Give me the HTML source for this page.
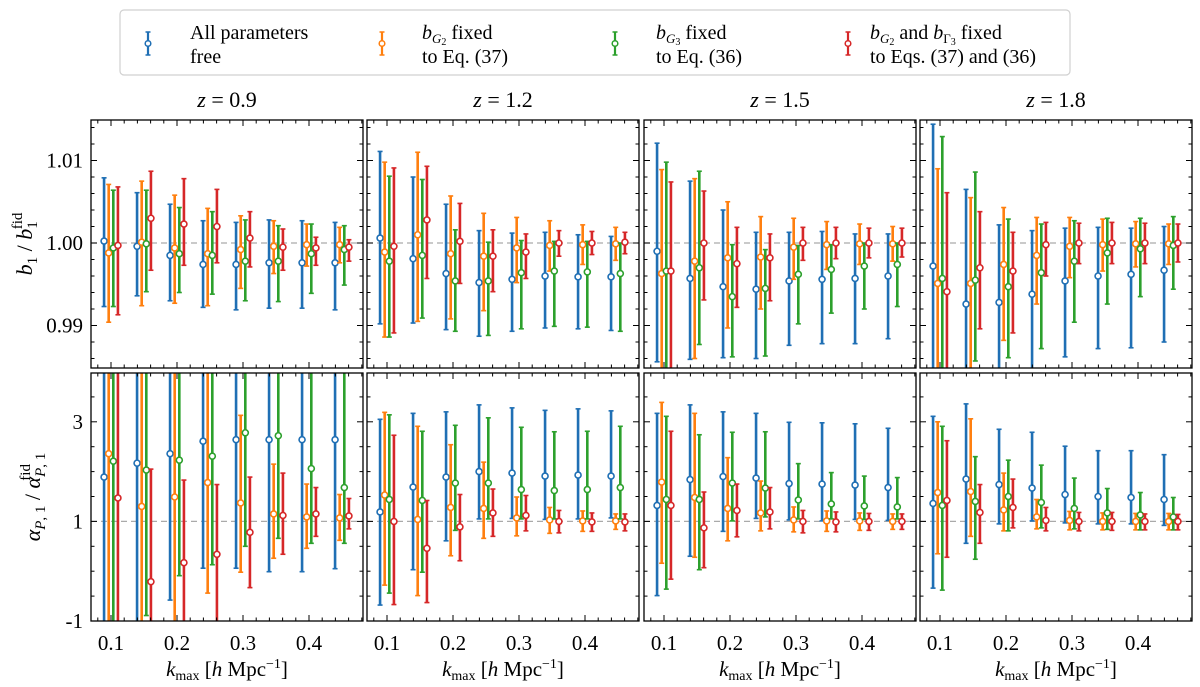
<!DOCTYPE html>
<html><head><meta charset="utf-8">
<style>
html,body{margin:0;padding:0;background:#fff;width:1200px;height:687px;overflow:hidden;}
svg{display:block;}
svg text{font-family:"Liberation Serif","DejaVu Serif",serif;}
</style></head>
<body>
<svg id="fig" width="1200" height="687" viewBox="0 0 1200 687" font-family="Liberation Serif, DejaVu Serif, serif" xmlns="http://www.w3.org/2000/svg">
<g id="legend">
<rect x="120" y="10" width="950" height="65" rx="4" fill="#fff" stroke="#d0d0d0" stroke-width="1.2"/>
</g>
</svg>
<script>
// ---- data ----
const kmax = [0.1,0.15,0.2,0.25,0.3,0.35,0.4,0.45];
const redshifts = ["0.9","1.2","1.5","1.8"];
const seriesNames = ["all-free","bG2-fixed","bG3-fixed","bG2-bG3-fixed"];
// b1/b1fid deviations in units of 1e-3 ; per redshift: [blue, orange, green, red]
const b1Mid = [
 [[0.24,-0.4,-1.5,-2.6,-2.6,-2.4,-2.4,-2.4],[-1.2,0.1,-0.6,-1.3,-0.8,-0.4,-0.2,-0.2],[-0.6,-0.1,-1.3,-1.5,-2.2,-2.2,-1.3,-0.8],[-0.3,3.0,2.3,2.0,0.6,-0.5,-0.6,-0.5]],
 [[0.6,-1.9,-3.7,-4.8,-4.4,-4.0,-4.1,-4.1],[-1.1,1.0,-1.3,-1.6,-0.6,-0.3,-0.2,-0.1],[-2.2,-1.5,-4.6,-4.6,-3.6,-3.4,-3.5,-3.7],[-0.4,2.8,0.2,-1.6,-1.1,0.0,0.0,0.1]],
 [[-1.0,-4.3,-5.3,-5.6,-4.6,-4.4,-4.3,-4.0],[-3.7,-2.2,-1.8,-1.7,-0.5,-0.2,-0.1,-0.1],[-3.4,-3.0,-6.5,-5.5,-3.8,-3.2,-2.8,-2.6],[-3.4,0.0,-2.5,-1.8,0.0,0.0,0.0,0.0]],
 [[-2.8,-7.4,-7.2,-6.2,-4.6,-4.0,-3.8,-3.3],[-4.9,-4.9,-2.6,-1.5,-0.4,-0.2,-0.1,-0.1],[-4.3,-4.5,-5.3,-3.6,-2.2,-1.2,-0.7,-0.3],[-5.9,-3.0,-3.4,-0.2,0.0,0.0,0.0,0.0]]
];
const b1Up = [
 [[7.9,6.1,4.7,2.7,2.5,2.8,2.7,2.5],[7.1,7.5,5.8,4.2,3.3,2.7,2.3,1.9],[6.4,6.4,4.3,3.8,2.8,2.1,2.3,2.1],[6.8,8.7,7.8,6.5,3.8,1.7,0.7,0.4]],
 [[11.1,8.0,4.7,1.5,1.2,1.3,1.0,0.8],[9.8,11.0,5.7,3.6,3.1,2.7,2.2,1.9],[8.1,7.7,1.6,0.1,0.3,0.2,0.2,0.0],[9.1,9.3,4.8,1.6,1.1,1.5,1.4,1.3]],
 [[12.1,7.5,4.0,1.3,1.3,1.4,1.1,1.1],[8.9,7.8,5.0,3.2,3.0,2.6,2.3,2.0],[9.8,8.7,-0.2,-0.8,-0.3,-0.2,0.0,0.0],[7.4,6.3,1.9,1.1,1.9,1.9,1.8,1.8]],
 [[14.4,6.5,2.2,1.5,1.8,1.9,1.8,2.0],[9.0,5.5,4.3,3.1,3.1,2.9,2.6,2.3],[12.9,8.6,2.9,2.3,2.7,3.0,3.0,3.2],[6.1,3.8,1.3,2.5,2.4,2.5,2.4,2.3]]
];
const b1Lo = [
 [[-7.7,-6.4,-7.0,-7.8,-8.1,-7.9,-7.9,-8.1],[-9.6,-7.6,-7.3,-7.6,-5.5,-3.7,-2.8,-2.4],[-7.7,-5.9,-6.0,-6.2,-7.0,-7.1,-6.1,-5.1],[-8.7,-3.3,-2.7,-2.4,-2.9,-3.3,-2.7,-2.2]],
 [[-9.8,-9.7,-10.5,-11.3,-10.7,-10.3,-10.4,-10.6],[-11.4,-9.5,-9.2,-8.2,-4.8,-3.4,-2.6,-2.1],[-11.4,-9.1,-10.7,-11.2,-10.4,-10.1,-10.2,-10.7],[-10.9,-4.3,-4.9,-5.9,-4.3,-1.6,-1.4,-1.3]],
 [[-14.4,-14.1,-13.9,-14.0,-12.4,-12.2,-12.2,-11.6],[-30,-14.0,-10.3,-8.0,-4.4,-3.2,-2.6,-2.2],[-30,-12.3,-13.8,-13.7,-9.8,-8.5,-8.0,-7.7],[-30,-6.9,-7.8,-7.0,-2.1,-1.9,-1.8,-1.7]],
 [[-30,-30,-30,-30,-13.8,-12.8,-12.7,-12.0],[-30,-30,-11.8,-7.4,-4.2,-3.4,-2.9,-2.6],[-30,-14.3,-13.9,-12.8,-9.6,-7.4,-6.5,-5.6],[-30,-10.4,-10.9,-4.0,-2.5,-2.5,-2.5,-2.3]]
];
// alpha_P1/alpha_P1^fid
const apMid = [
 [[1.89,2.17,2.36,2.61,2.64,2.64,2.64,2.64],[2.36,1.30,1.49,1.78,1.37,1.15,1.09,1.07],[2.21,2.03,2.23,2.31,2.78,2.72,2.06,1.68],[1.47,-0.21,0.17,0.34,0.78,1.12,1.15,1.11]],
 [[1.19,1.69,1.89,2.0,1.97,1.91,1.93,1.91],[1.53,1.04,1.28,1.26,1.07,1.03,1.01,1.01],[1.44,1.42,1.77,1.77,1.64,1.62,1.64,1.68],[1.0,0.46,0.89,1.17,1.12,1.0,0.99,0.99]],
 [[1.32,1.84,1.90,1.87,1.76,1.75,1.73,1.68],[1.79,1.48,1.26,1.17,1.03,1.01,1.01,1.0],[1.44,1.44,1.77,1.67,1.43,1.35,1.31,1.29],[1.32,0.87,1.22,1.19,1.0,0.99,1.0,1.0]],
 [[1.36,1.85,1.74,1.67,1.54,1.50,1.48,1.44],[1.58,1.60,1.23,1.09,1.02,1.0,1.0,1.0],[1.32,1.40,1.50,1.38,1.26,1.17,1.13,1.09],[1.42,1.18,1.28,1.02,1.0,1.0,1.0,1.0]]
];
const apUp = [
 [[10,10,10,10,10,10,10,10],[10,10,10,10,3.13,2.15,1.75,1.54],[10,10,10,10,10,10,10,10],[10,2.05,1.83,1.74,1.89,1.97,1.68,1.46]],
 [[3.05,3.17,3.20,3.34,3.28,3.23,3.26,3.22],[3.19,2.91,2.54,2.19,1.49,1.28,1.21,1.15],[3.14,2.81,2.93,3.08,2.89,2.80,2.81,2.91],[2.73,1.42,1.54,1.65,1.52,1.22,1.17,1.15]],
 [[3.17,3.34,3.20,3.17,2.99,2.98,2.96,2.87],[3.39,3.17,2.28,1.81,1.29,1.21,1.17,1.15],[3.11,2.74,2.79,2.80,2.16,1.98,1.91,1.88],[2.81,1.59,1.75,1.68,1.22,1.19,1.16,1.15]],
 [[3.11,3.36,2.85,2.79,2.51,2.42,2.42,2.34],[3.0,3.06,1.97,1.44,1.2,1.17,1.16,1.16],[2.91,2.30,2.23,2.13,1.87,1.66,1.58,1.48],[2.62,1.74,1.85,1.28,1.18,1.18,1.15,1.14]]
];
const apLo = [
 [[-10,-10,-0.58,0.06,0.06,-0.01,-0.01,0.05],[-10,-10,-10,-0.44,-0.02,0.26,0.46,0.62],[-10,-0.89,-0.09,0.13,0.50,0.66,0.56,0.56],[-10,-10,-10,-10,-0.33,0.34,0.70,0.85]],
 [[-0.68,0.03,0.61,1.05,1.06,1.04,1.05,1.07],[-0.28,-0.49,0.31,0.66,0.71,0.76,0.80,0.84],[-0.44,-0.02,0.82,1.05,1.05,1.05,1.05,1.05],[-0.67,-0.63,0.21,0.70,0.81,0.77,0.80,0.81]],
 [[-0.49,0.30,0.80,1.06,1.03,1.01,1.04,1.02],[0.16,0.28,0.61,0.81,0.79,0.80,0.82,0.84],[-0.36,0.03,1.01,1.09,1.05,1.05,1.04,1.05],[-0.16,0.07,0.69,0.85,0.77,0.79,0.82,0.84]],
 [[-0.34,0.56,0.95,1.01,0.97,0.95,0.95,0.92],[0.35,0.70,0.81,0.85,0.83,0.83,0.83,0.83],[-0.38,0.24,0.81,0.87,0.85,0.84,0.83,0.83],[0.28,0.56,0.87,0.81,0.81,0.82,0.83,0.83]]
];
const colors = ["#1f6fb4","#ff7f0e","#2ca02c","#d62728"];
const kOffset = [-0.0105,-0.0035,0.0035,0.0105];
const xTicks = [0.1,0.2,0.3,0.4];
const b1Ticks = [0.99,1.00,1.01];
const apTicks = [-1,1,3];

// ---- layout ----
const NS="http://www.w3.org/2000/svg";
const FONT="Liberation Serif, DejaVu Serif, serif";
const svg=document.getElementById('fig');
const panelX=[91,367,644,920], panelW=272;
const topY=120, topH=248, botY=373, botH=248;
const xMin=0.0697, xMax=0.0697+272/660;
const b1Min=0.98485, b1Max=1.01491;
const apMin=-1, apMax=3.98;
function mk(tag,attrs,parent){const e=document.createElementNS(NS,tag);for(const k in attrs)e.setAttribute(k,attrs[k]);if(tag==='text')e.setAttribute('font-family',FONT);(parent||svg).appendChild(e);return e;}
function xs(p,k){return panelX[p]+(k-xMin)/(xMax-xMin)*panelW;}
function yb1(v){return topY+topH-(v-b1Min)/(b1Max-b1Min)*topH;}
function yap(v){return botY+botH-(v-apMin)/(apMax-apMin)*botH;}

function drawPanel(p,row){
  const y0=row===0?topY:botY, h=row===0?topH:botH;
  const ys=row===0?yb1:yap;
  const g=mk('g',{});
  
  
  const cid='clip'+p+'_'+row;
  const cp=mk('clipPath',{id:cid},g);
  mk('rect',{x:panelX[p],y:y0,width:panelW,height:h},cp);
  const ref=mk('line',{x1:panelX[p],x2:panelX[p]+panelW,y1:ys(1),y2:ys(1),stroke:'#aaa','stroke-width':1.3,'stroke-dasharray':'6,4'},g);
  
  
  const dg=mk('g',{'clip-path':'url(#'+cid+')'},g);
  for(let s=0;s<4;s++){
    for(let i=0;i<kmax.length;i++){
      let mid,up,lo;
      if(row===0){mid=1+b1Mid[p][s][i]/1000;up=1+b1Up[p][s][i]/1000;lo=1+b1Lo[p][s][i]/1000;}
      else{mid=apMid[p][s][i];up=apUp[p][s][i];lo=apLo[p][s][i];}
      const x=xs(p,kmax[i]+kOffset[s]);
      const eg=mk('g',{},dg);
      
      
      mk('line',{x1:x,x2:x,y1:ys(up),y2:ys(lo),stroke:colors[s],'stroke-width':2.6},eg);
      mk('line',{x1:x-2.5,x2:x+2.5,y1:ys(up),y2:ys(up),stroke:colors[s],'stroke-width':1.6},eg);
      mk('line',{x1:x-2.5,x2:x+2.5,y1:ys(lo),y2:ys(lo),stroke:colors[s],'stroke-width':1.6},eg);
      mk('circle',{cx:x,cy:ys(mid),r:3,fill:'#fff',stroke:colors[s],'stroke-width':1.6},eg);
    }
  }
  const fr=mk('rect',{x:panelX[p],y:y0,width:panelW,height:h,fill:'none',stroke:'#000','stroke-width':1.3},g);
  
  
  for(let k=0.08;k<=0.4801;k+=0.02){
    const kk=Math.round(k*100)/100;
    const major=xTicks.some(t=>Math.abs(t-kk)<1e-6);
    const L=major?6:3.5, x=xs(p,kk);
    mk('line',{x1:x,x2:x,y1:y0+h,y2:y0+h-L,stroke:'#000','stroke-width':1},g);
    mk('line',{x1:x,x2:x,y1:y0,y2:y0+L,stroke:'#000','stroke-width':1},g);
  }
  const minorStep=row===0?0.002:0.5;
  const lo0=row===0?0.986:-1, hi0=row===0?1.014:3.5;
  const majors=row===0?b1Ticks:apTicks;
  for(let v=lo0;v<=hi0+1e-9;v+=minorStep){
    const vv=Math.round(v*1000)/1000;
    const major=majors.some(t=>Math.abs(t-vv)<1e-6);
    const L=major?6:3.5, y=ys(vv);
    mk('line',{x1:panelX[p],x2:panelX[p]+L,y1:y,y2:y,stroke:'#000','stroke-width':1},g);
    mk('line',{x1:panelX[p]+panelW,x2:panelX[p]+panelW-L,y1:y,y2:y,stroke:'#000','stroke-width':1},g);
  }
  if(p===0){
    for(const t of majors){
      const tx=mk('text',{x:panelX[0]-8,y:ys(t)+7,'text-anchor':'end','font-size':21},g);
      tx.textContent=row===0?t.toFixed(2):String(t);
      
      
    }
  }
  if(row===1){
    for(const t of xTicks){
      const tx=mk('text',{x:xs(p,t),y:650,'text-anchor':'middle','font-size':21},g);
      tx.textContent=t.toFixed(1);
      
      
    }
    const xl=mk('text',{x:panelX[p]+panelW/2,y:676,'text-anchor':'middle','font-size':21},g);
    xl.innerHTML='<tspan font-style="italic">k</tspan><tspan font-size="14" dy="4">max</tspan><tspan dy="-4"> [</tspan><tspan font-style="italic">h</tspan><tspan> Mpc</tspan><tspan font-size="14" dy="-8">−1</tspan><tspan dy="8">]</tspan>';
    
    
  } else {
    const tt=mk('text',{x:panelX[p]+panelW/2,y:107,'text-anchor':'middle','font-size':22},g);
    tt.innerHTML='<tspan font-style="italic">z</tspan> = '+redshifts[p];
    
    
  }
}
for(let p=0;p<4;p++){drawPanel(p,0);drawPanel(p,1);}

const yt1=mk('text',{transform:'translate(32,244) rotate(-90)','text-anchor':'middle','font-size':22});
yt1.innerHTML='<tspan font-style="italic">b</tspan><tspan font-size="15" dy="5">1</tspan><tspan dy="-5"> / </tspan><tspan font-style="italic">b</tspan><tspan font-size="15" dy="5">1</tspan><tspan font-size="15" dx="-8" dy="-15">fid</tspan>';


const yt2=mk('text',{transform:'translate(40,497) rotate(-90)','text-anchor':'middle','font-size':22});
yt2.innerHTML='<tspan font-style="italic">α</tspan><tspan font-size="15" dy="5"><tspan font-style="italic">P</tspan>, 1</tspan><tspan dy="-5"> / </tspan><tspan font-style="italic">α</tspan><tspan font-size="15" dy="5"><tspan font-style="italic">P</tspan>, 1</tspan><tspan font-size="15" dx="-28" dy="-15">fid</tspan>';



const leg=document.getElementById('legend');
const legX=[148,382,615,848];
const legText=[["All parameters","free"],["<tspan font-style='italic'>b</tspan><tspan font-size='13' dy='4' font-style='italic'>G</tspan><tspan font-size='10' dy='2'>2</tspan><tspan dy='-6'> fixed</tspan>","to Eq. (37)"],["<tspan font-style='italic'>b</tspan><tspan font-size='13' dy='4' font-style='italic'>G</tspan><tspan font-size='10' dy='2'>3</tspan><tspan dy='-6'> fixed</tspan>","to Eq. (36)"],["<tspan font-style='italic'>b</tspan><tspan font-size='13' dy='4' font-style='italic'>G</tspan><tspan font-size='10' dy='2'>2</tspan><tspan dy='-6'> and </tspan><tspan font-style='italic'>b</tspan><tspan font-size='13' dy='4'>Γ</tspan><tspan font-size='10' dy='2'>3</tspan><tspan dy='-6'> fixed</tspan>","to Eqs. (37) and (36)"]];
const legTextX=[190,422,656,870];
for(let s=0;s<4;s++){
  const g=mk('g',{},leg);
  
  
  const x=legX[s];
  mk('line',{x1:x,x2:x,y1:32,y2:55,stroke:colors[s],'stroke-width':2.2},g);
  mk('line',{x1:x-2.5,x2:x+2.5,y1:32,y2:32,stroke:colors[s],'stroke-width':1.5},g);
  mk('line',{x1:x-2.5,x2:x+2.5,y1:55,y2:55,stroke:colors[s],'stroke-width':1.5},g);
  mk('circle',{cx:x,cy:43.5,r:2.8,fill:'#fff',stroke:colors[s],'stroke-width':1.5},g);
  const t1=mk('text',{x:legTextX[s],y:39,'font-size':20},g);t1.innerHTML=legText[s][0];
  const t2=mk('text',{x:legTextX[s],y:63,'font-size':20},g);t2.textContent=legText[s][1];
}
</script>
</body></html>
